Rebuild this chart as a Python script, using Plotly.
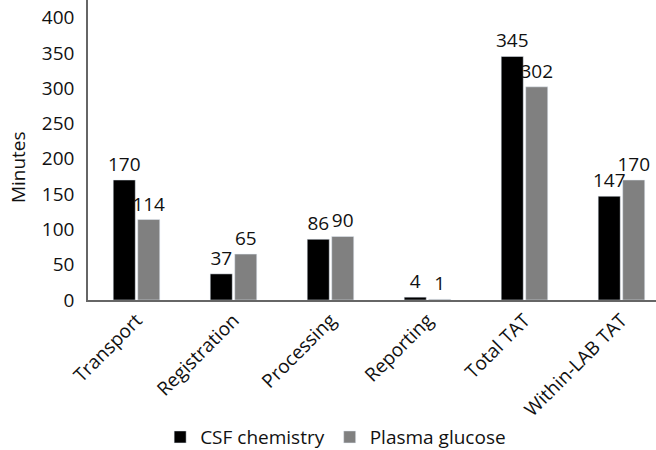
import plotly.graph_objects as go

categories = ["Transport", "Registration", "Processing", "Reporting", "Total TAT", "Within-LAB TAT"]
csf_chemistry = [170, 37, 86, 4, 345, 147]
plasma_glucose = [114, 65, 90, 1, 302, 170]

font_family = "Open Sans, Lato, sans-serif"
fs = 19

fig = go.Figure()
fig.add_trace(go.Bar(
    x=categories, y=csf_chemistry, name="CSF chemistry",
    marker=dict(color="#000000"),
    text=[str(v) for v in csf_chemistry], textposition="outside",
    textfont=dict(size=fs, color="#111111", family=font_family),
    constraintext="none", cliponaxis=False,
))
fig.add_trace(go.Bar(
    x=categories, y=plasma_glucose, name="Plasma glucose",
    marker=dict(color="#808080"),
    text=[str(v) for v in plasma_glucose], textposition="outside",
    textfont=dict(size=fs, color="#111111", family=font_family),
    constraintext="none", cliponaxis=False,
))

fig.update_layout(
    width=656, height=450,
    margin=dict(l=88, r=0, t=0, b=150, autoexpand=False),
    paper_bgcolor="white", plot_bgcolor="white",
    barmode="group", bargap=0.495, bargroupgap=0.1,
    font=dict(family=font_family, size=fs, color="#111111"),
    showlegend=True,
    legend=dict(
        orientation="h", x=0.436, xanchor="center",
        y=-0.457, yanchor="middle",
        font=dict(size=fs), itemwidth=30, tracegroupgap=0,
        traceorder="normal",
    ),
    xaxis=dict(
        range=[-0.5, 5.356],
        tickangle=-45, showline=True, linecolor="#666666", linewidth=1.5,
        ticks="", showgrid=False, tickfont=dict(size=fs), automargin=False,
    ),
    yaxis=dict(
        range=[0, 425], tickvals=[0, 50, 100, 150, 200, 250, 300, 350, 400],
        showline=True, linecolor="#666666", linewidth=1.5, ticks="",
        showgrid=False, zeroline=False, tickfont=dict(size=fs), automargin=False,
        ticklabelstandoff=8,
    ),
    annotations=[dict(
        text="Minutes", textangle=-90, showarrow=False,
        xref="paper", yref="paper", x=-0.1232, y=0.443,
        xanchor="center", yanchor="middle", font=dict(size=fs),
    )],
)

fig.write_html("out.html", config={"displayModeBar": False},
               post_script="document.body.style.margin='0';")
